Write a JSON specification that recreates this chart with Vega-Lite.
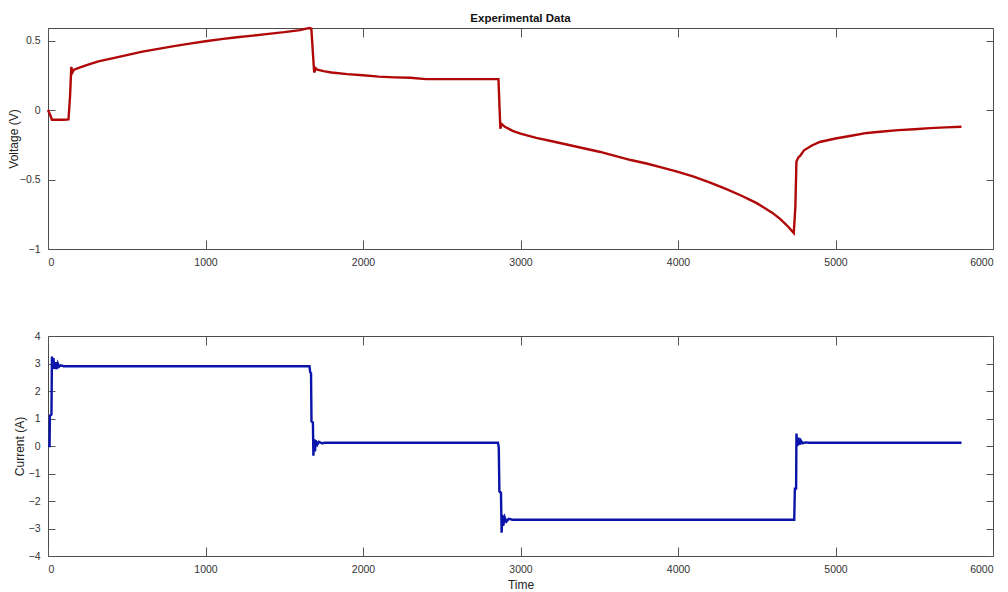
{
  "$schema": "https://vega.github.io/schema/vega-lite/v6.json",
  "padding": {"left": 6, "top": 12, "right": 10, "bottom": 4},
  "background": "white",
  "spacing": 62,
  "datasets": {
    "voltage": [
      {"t":0,"v":0},{"t":15,"v":-0.04},{"t":25,"v":-0.07},{"t":60,"v":-0.07},{"t":100,"v":-0.07},{"t":130,"v":-0.068},{"t":140,"v":0.1},{"t":148,"v":0.31},{"t":155,"v":0.27},{"t":165,"v":0.29},{"t":200,"v":0.305},{"t":250,"v":0.325},{"t":320,"v":0.35},{"t":400,"v":0.37},{"t":500,"v":0.395},{"t":600,"v":0.42},{"t":700,"v":0.44},{"t":800,"v":0.46},{"t":900,"v":0.478},{"t":1000,"v":0.495},{"t":1100,"v":0.51},{"t":1200,"v":0.523},{"t":1300,"v":0.535},{"t":1400,"v":0.548},{"t":1500,"v":0.56},{"t":1600,"v":0.575},{"t":1640,"v":0.585},{"t":1660,"v":0.59},{"t":1672,"v":0.585},{"t":1690,"v":0.27},{"t":1700,"v":0.3},{"t":1710,"v":0.29},{"t":1750,"v":0.28},{"t":1800,"v":0.27},{"t":1900,"v":0.258},{"t":2000,"v":0.25},{"t":2100,"v":0.24},{"t":2200,"v":0.235},{"t":2300,"v":0.232},{"t":2400,"v":0.222},{"t":2500,"v":0.222},{"t":2700,"v":0.222},{"t":2860,"v":0.222},{"t":2872,"v":-0.135},{"t":2880,"v":-0.1},{"t":2900,"v":-0.12},{"t":2950,"v":-0.15},{"t":3000,"v":-0.17},{"t":3100,"v":-0.2},{"t":3200,"v":-0.225},{"t":3300,"v":-0.25},{"t":3400,"v":-0.275},{"t":3500,"v":-0.3},{"t":3600,"v":-0.33},{"t":3700,"v":-0.36},{"t":3800,"v":-0.385},{"t":3900,"v":-0.415},{"t":4000,"v":-0.445},{"t":4100,"v":-0.48},{"t":4200,"v":-0.52},{"t":4300,"v":-0.565},{"t":4400,"v":-0.615},{"t":4500,"v":-0.67},{"t":4600,"v":-0.74},{"t":4650,"v":-0.785},{"t":4700,"v":-0.84},{"t":4735,"v":-0.885},{"t":4745,"v":-0.7},{"t":4752,"v":-0.37},{"t":4765,"v":-0.34},{"t":4775,"v":-0.33},{"t":4800,"v":-0.29},{"t":4850,"v":-0.255},{"t":4900,"v":-0.23},{"t":5000,"v":-0.205},{"t":5100,"v":-0.185},{"t":5200,"v":-0.165},{"t":5300,"v":-0.155},{"t":5400,"v":-0.145},{"t":5500,"v":-0.138},{"t":5600,"v":-0.13},{"t":5700,"v":-0.125},{"t":5800,"v":-0.12}
    ],
    "current": [
      {"t":0,"i":0},{"t":10,"i":0},{"t":12,"i":1.1},{"t":22,"i":1.15},{"t":25,"i":3.25},{"t":30,"i":3.0},{"t":35,"i":3.2},{"t":40,"i":2.8},{"t":48,"i":3.05},{"t":55,"i":2.8},{"t":62,"i":3.0},{"t":70,"i":2.88},{"t":80,"i":2.93},{"t":100,"i":2.9},{"t":1660,"i":2.9},{"t":1665,"i":2.68},{"t":1670,"i":2.65},{"t":1673,"i":0.9},{"t":1682,"i":0.85},{"t":1685,"i":-0.35},{"t":1690,"i":0.25},{"t":1695,"i":-0.2},{"t":1700,"i":0.2},{"t":1710,"i":0.05},{"t":1720,"i":0.15},{"t":1740,"i":0.1},{"t":1760,"i":0.12},{"t":2857,"i":0.12},{"t":2862,"i":-0.05},{"t":2866,"i":-1.65},{"t":2876,"i":-1.7},{"t":2880,"i":-3.15},{"t":2885,"i":-2.5},{"t":2890,"i":-2.9},{"t":2900,"i":-2.6},{"t":2910,"i":-2.75},{"t":2925,"i":-2.65},{"t":2950,"i":-2.68},{"t":4738,"i":-2.68},{"t":4742,"i":-1.55},{"t":4750,"i":-1.55},{"t":4752,"i":0.45},{"t":4758,"i":0.0},{"t":4765,"i":0.3},{"t":4772,"i":0.05},{"t":4780,"i":0.2},{"t":4790,"i":0.1},{"t":4810,"i":0.13},{"t":4830,"i":0.12},{"t":5800,"i":0.12}
    ]
  },
  "config": {
    "font": "Liberation Sans",
    "view": {"stroke": "#4a4a4a", "strokeWidth": 1},
    "axis": {
      "grid": false,
      "domain": false,
      "labelFont": "Liberation Sans",
      "labelFontSize": 10.5,
      "labelColor": "#333333",
      "titleFont": "Liberation Sans",
      "titleFontSize": 12,
      "titleFontWeight": "normal",
      "titleColor": "#222222",
      "tickColor": "#555555"
    }
  },
  "vconcat": [
    {
      "width": 945,
      "height": 221,
      "title": {"text": "Experimental Data", "fontSize": 11.5, "fontWeight": "bold", "font": "Liberation Sans", "color": "#111111", "offset": -1},
      "data": {"name": "voltage"},
      "layer": [
        {
          "mark": {"type": "line", "color": "#b00808", "strokeWidth": 2.4},
          "encoding": {
            "x": {"field": "t", "type": "quantitative", "scale": {"domain": [0, 6000], "nice": false},
                  "axis": {"title": null, "values": [0,1000,2000,3000,4000,5000,6000], "format": "d", "tickSize": -9, "labelPadding": 17}},
            "y": {"field": "v", "type": "quantitative", "scale": {"domain": [-1, 0.59], "nice": false, "zero": false},
                  "axis": {"title": "Voltage (V)", "values": [-1,-0.5,0,0.5], "format": "~g", "tickSize": -7, "labelPadding": 15, "titlePadding": -1}}
          }
        },
        {
          "mark": {"type": "line", "strokeOpacity": 0},
          "encoding": {
            "x": {"field": "t", "type": "quantitative",
                  "axis": {"orient": "top", "title": null, "labels": false, "values": [0,1000,2000,3000,4000,5000,6000], "tickSize": -9}},
            "y": {"field": "v", "type": "quantitative",
                  "axis": {"orient": "right", "title": null, "labels": false, "values": [-1,-0.5,0,0.5], "tickSize": -7}}
          }
        }
      ],
      "resolve": {"axis": {"x": "independent", "y": "independent"}}
    },
    {
      "width": 945,
      "height": 220,
      "data": {"name": "current"},
      "layer": [
        {
          "mark": {"type": "line", "color": "#0a14aa", "strokeWidth": 2.4},
          "encoding": {
            "x": {"field": "t", "type": "quantitative", "scale": {"domain": [0, 6000], "nice": false},
                  "axis": {"title": "Time", "values": [0,1000,2000,3000,4000,5000,6000], "format": "d", "tickSize": -9, "labelPadding": 17, "titlePadding": 5}},
            "y": {"field": "i", "type": "quantitative", "scale": {"domain": [-4, 4], "nice": false},
                  "axis": {"title": "Current (A)", "values": [-4,-3,-2,-1,0,1,2,3,4], "tickSize": -7, "labelPadding": 15, "titlePadding": 2}}
          }
        },
        {
          "mark": {"type": "line", "strokeOpacity": 0},
          "encoding": {
            "x": {"field": "t", "type": "quantitative",
                  "axis": {"orient": "top", "title": null, "labels": false, "values": [0,1000,2000,3000,4000,5000,6000], "tickSize": -9}},
            "y": {"field": "i", "type": "quantitative",
                  "axis": {"orient": "right", "title": null, "labels": false, "values": [-4,-3,-2,-1,0,1,2,3,4], "tickSize": -7}}
          }
        }
      ],
      "resolve": {"axis": {"x": "independent", "y": "independent"}}
    }
  ]
}
